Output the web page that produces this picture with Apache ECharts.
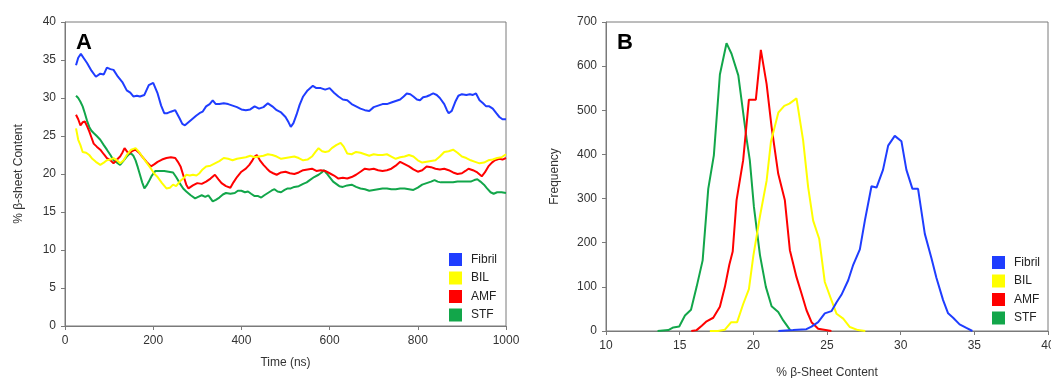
<!DOCTYPE html>
<html>
<head>
<meta charset="utf-8">
<script src="https://cdn.jsdelivr.net/npm/echarts@6/dist/echarts.min.js"></script>
<style>
html,body{margin:0;padding:0;background:#fff;}
#c{width:1051px;height:378px;}
</style>
</head>
<body>
<div id="c"></div>
<script>
// ---------- Panel A: time series [time ns, % beta-sheet] ----------
const seriesNames = ['Fibril', 'BIL', 'AMF', 'STF'];
const seriesColors = ['#1f3dff', '#ffff00', '#ff0000', '#12a64a'];

const fibrilTime = [
 [25,34.3],[30,35.3],[36,35.8],[43,35.2],[50,34.6],[60,33.6],[70,32.8],[80,33.2],[88,33.1],[95,34.0],[103,33.8],[110,33.7],[120,32.8],[130,32.1],[140,31.0],[148,30.7],[155,30.2],[163,30.3],[170,30.2],[180,30.4],[190,31.7],[200,32.0],[210,30.6],[218,29.0],[225,28.0],[232,28.0],[240,28.2],[250,28.4],[260,27.3],[266,26.6],[272,26.4],[280,26.8],[290,27.3],[298,27.7],[305,28.0],[312,28.2],[320,28.9],[328,29.2],[335,29.7],[342,29.2],[350,29.2],[360,29.3],[370,29.2],[380,29.0],[390,28.8],[400,28.5],[410,28.4],[420,28.5],[430,28.9],[440,28.6],[450,28.8],[460,29.3],[470,28.9],[480,28.4],[490,28.1],[500,27.5],[507,26.8],[512,26.2],[518,26.7],[525,27.8],[532,29.1],[540,30.2],[550,31.0],[562,31.6],[570,31.3],[580,31.3],[590,31.1],[600,31.3],[610,30.7],[620,30.2],[630,29.8],[640,29.7],[650,29.2],[660,28.9],[670,28.6],[680,28.4],[690,28.3],[700,28.8],[710,29.0],[720,29.2],[730,29.2],[740,29.4],[750,29.6],[760,29.8],[768,30.2],[775,30.6],[783,30.5],[790,30.2],[798,29.8],[805,29.7],[812,30.1],[820,30.2],[828,30.4],[835,30.6],[843,30.4],[850,30.0],[860,29.2],[866,28.4],[870,28.0],[877,28.3],[885,29.5],[892,30.3],[900,30.5],[910,30.4],[918,30.5],[925,30.4],[932,30.6],[940,29.7],[948,29.3],[955,28.9],[962,28.9],[970,28.6],[978,28.0],[985,27.5],[992,27.2],[1000,27.2]
];
const bilTime = [
 [25,26.0],[30,24.5],[35,23.8],[40,22.9],[48,22.8],[55,22.5],[62,22.0],[70,21.6],[80,21.2],[88,21.5],[95,21.8],[103,21.9],[110,22.1],[118,21.8],[125,21.4],[133,21.8],[140,22.5],[150,23.2],[160,23.4],[168,22.9],[175,22.3],[185,21.5],[195,20.7],[203,20.0],[210,19.6],[220,18.8],[230,18.1],[238,18.2],[245,18.6],[252,18.4],[260,19.0],[268,19.4],[275,19.9],[283,19.8],[290,19.9],[298,19.8],[305,20.1],[312,20.6],[320,21.0],[330,21.1],[340,21.4],[350,21.7],[360,22.1],[370,22.0],[380,21.8],[390,22.0],[400,22.1],[410,22.2],[420,22.4],[430,22.2],[440,22.3],[450,22.4],[460,22.6],[470,22.5],[480,22.3],[490,22.0],[500,22.1],[510,22.2],[520,22.3],[530,22.1],[540,21.8],[550,21.9],[560,22.3],[568,22.9],[575,23.4],[583,23.0],[590,22.9],[598,23.0],[605,23.4],[615,23.8],[625,24.1],[632,23.6],[640,22.7],[650,22.6],[660,22.9],[670,22.8],[680,22.6],[690,22.4],[700,22.6],[710,22.5],[720,22.5],[730,22.6],[740,22.3],[750,22.0],[760,22.2],[770,22.3],[780,22.5],[790,22.3],[800,21.8],[810,21.5],[820,21.6],[830,21.7],[840,21.8],[850,22.3],[860,22.9],[870,23.0],[880,23.2],[890,22.8],[900,22.3],[910,22.1],[920,21.8],[930,21.6],[940,21.4],[950,21.5],[960,21.8],[970,21.9],[980,22.1],[990,22.2],[1000,22.6]
];
const amfTime = [
 [25,27.8],[30,27.2],[35,26.4],[40,26.8],[45,26.9],[50,26.3],[55,25.6],[60,24.8],[65,24.0],[72,23.6],[80,23.2],[88,22.6],[95,22.1],[103,21.8],[110,21.4],[118,21.9],[125,22.3],[130,22.8],[135,23.4],[140,23.0],[145,22.7],[152,23.0],[160,23.2],[168,22.8],[175,22.3],[185,21.6],[195,21.0],[203,21.3],[210,21.6],[220,21.9],[230,22.1],[240,22.2],[250,22.1],[256,21.6],[262,21.0],[270,19.5],[275,18.6],[280,18.1],[290,18.5],[300,18.8],[310,18.7],[320,19.0],[330,19.4],[340,19.9],[348,19.3],[355,18.8],[365,18.4],[375,18.2],[382,18.9],[390,19.6],[400,20.3],[410,20.7],[418,21.2],[425,21.8],[430,22.3],[435,22.5],[442,21.8],[450,21.2],[458,20.7],[465,20.3],[472,20.1],[480,19.9],[490,20.2],[500,20.3],[510,20.1],[520,20.0],[530,20.2],[540,20.5],[550,20.6],[560,20.7],[570,20.4],[580,20.5],[590,20.4],[600,20.1],[610,19.8],[620,19.4],[630,19.5],[640,19.4],[650,19.6],[660,19.9],[670,20.3],[680,20.7],[690,20.6],[700,20.7],[710,20.5],[720,20.4],[730,20.5],[740,20.7],[750,21.1],[760,21.6],[770,21.3],[780,21.0],[790,20.6],[800,20.3],[810,20.5],[820,21.0],[830,20.9],[840,20.7],[850,20.6],[860,20.7],[870,20.5],[880,20.2],[890,20.0],[900,20.1],[908,20.4],[915,20.7],[925,20.5],[935,20.2],[945,19.7],[952,20.2],[960,21.0],[968,21.5],[975,21.8],[985,22.0],[992,21.9],[1000,22.1]
];
const stfTime = [
 [25,30.3],[30,30.0],[35,29.5],[40,28.9],[45,28.0],[50,27.0],[55,26.2],[60,25.7],[65,25.4],[72,25.0],[80,24.5],[88,23.8],[95,23.2],[103,22.5],[110,21.8],[118,21.5],[125,21.2],[132,21.7],[140,22.3],[145,22.6],[150,22.7],[155,22.4],[160,21.8],[165,20.9],[170,19.9],[175,18.9],[180,18.1],[185,18.5],[190,19.0],[197,19.8],[205,20.4],[215,20.4],[225,20.4],[235,20.3],[245,20.2],[252,19.6],[260,18.8],[268,18.1],[275,17.7],[285,17.2],[295,16.8],[302,17.0],[310,17.2],[318,17.0],[325,17.2],[330,16.8],[335,16.4],[342,16.6],[350,16.9],[358,17.3],[365,17.5],[375,17.4],[385,17.5],[392,17.8],[400,17.8],[408,17.6],[415,17.7],[422,17.4],[430,17.1],[438,17.1],[445,16.9],[452,17.2],[460,17.5],[468,17.8],[475,18.0],[482,17.7],[490,17.6],[498,17.9],[505,18.1],[512,18.1],[520,18.3],[530,18.4],[540,18.7],[548,18.9],[555,19.2],[565,19.6],[575,19.9],[582,20.2],[587,20.5],[593,20.1],[600,19.6],[608,19.0],[615,18.7],[622,18.4],[630,18.3],[640,18.5],[650,18.6],[660,18.3],[670,18.1],[680,18.0],[690,17.8],[700,17.9],[710,18.0],[720,18.1],[730,18.1],[740,18.0],[750,18.0],[760,18.1],[770,18.1],[780,18.0],[790,17.9],[800,18.2],[810,18.6],[820,18.8],[830,19.0],[838,19.2],[845,19.0],[852,18.9],[860,18.9],[870,18.9],[880,18.9],[890,19.0],[900,19.0],[910,19.0],[920,19.0],[928,19.2],[935,19.3],[942,19.0],[950,18.6],[957,18.1],[965,17.6],[972,17.4],[980,17.6],[990,17.6],[1000,17.5]
];

// ---------- Panel B: histograms [% beta-sheet, frequency] ----------
const fibrilHist = [
 [21.7,0],[22.7,2],[23.6,4],[23.95,10],[24.4,20],[24.85,40],[25.3,45],[25.65,65],[25.98,82],[26.44,115],[26.78,150],[27.23,185],[27.57,250],[28.02,328],[28.36,325],[28.8,365],[29.15,420],[29.6,442],[30.05,430],[30.39,365],[30.8,322],[31.18,322],[31.64,220],[32.09,165],[32.43,120],[32.88,70],[33.22,40],[33.56,30],[34.0,15],[34.46,7],[34.87,0]
];
const bilHist = [
 [17.05,0],[17.6,0],[18.07,3],[18.5,20],[18.9,20],[19.3,60],[19.7,95],[20.0,170],[20.45,260],[20.9,340],[21.2,430],[21.7,495],[22.1,510],[22.45,515],[22.93,527],[23.38,432],[23.72,326],[24.06,250],[24.47,209],[24.85,111],[25.3,70],[25.65,39],[26.1,28],[26.55,9],[27.1,2],[27.6,0]
];
const amfHist = [
 [15.79,0],[16.15,2],[16.5,12],[16.83,22],[17.28,30],[17.73,55],[18.07,100],[18.37,150],[18.6,180],[18.86,296],[19.31,387],[19.7,524],[20.17,524],[20.51,637],[20.9,560],[21.24,462],[21.69,356],[22.14,296],[22.48,183],[22.93,122],[23.27,85],[23.61,47],[23.95,20],[24.4,5],[25.3,0]
];
const stfHist = [
 [13.5,0],[14.23,2],[14.57,8],[14.97,10],[15.36,35],[15.77,48],[16.15,100],[16.56,160],[16.94,322],[17.32,398],[17.73,581],[18.18,652],[18.52,628],[18.98,579],[19.54,436],[19.76,387],[20.04,281],[20.45,172],[20.85,100],[21.24,56],[21.69,43],[22.03,24],[22.5,2]
];

const timeData = [fibrilTime, bilTime, amfTime, stfTime];
const histData = [fibrilHist, bilHist, amfHist, stfHist];

const FONT = 'Liberation Sans, Arial, sans-serif';
const axisGray = '#7a7a7a';
const textCol = '#333';

function baseAxis(extra) {
  return Object.assign({
    axisLine: {show: true, onZero: false, lineStyle: {color: axisGray, width: 1}},
    axisTick: {show: true, length: 4, lineStyle: {color: axisGray}},
    splitLine: {show: false},
    axisLabel: {color: textCol, fontSize: 12, fontFamily: FONT, margin: 9, formatter: v => String(v)},
    nameTextStyle: {color: textCol, fontSize: 12, fontFamily: FONT},
    nameLocation: 'middle'
  }, extra);
}

const series = [];
seriesNames.forEach((n, i) => {
  series.push({name: n, type: 'line', xAxisIndex: 0, yAxisIndex: 0, data: timeData[i],
    showSymbol: false, symbol: 'none', lineStyle: {width: 2, color: seriesColors[i]}, itemStyle: {color: seriesColors[i]},
    z: 10 - i, animation: false});
});
seriesNames.forEach((n, i) => {
  series.push({name: n, type: 'line', xAxisIndex: 1, yAxisIndex: 1, data: histData[i],
    showSymbol: false, symbol: 'none', lineStyle: {width: 2, color: seriesColors[i]}, itemStyle: {color: seriesColors[i]},
    z: 10 - i, animation: false});
});

const legendBase = {
  orient: 'vertical', icon: 'rect', itemWidth: 13, itemHeight: 13, itemGap: 5.5,
  textStyle: {color: '#222', fontSize: 12, fontFamily: FONT, padding: [0, 0, 0, 4]},
  data: seriesNames, selectedMode: false
};

const chart = echarts.init(document.getElementById('c'), null, {renderer: 'canvas'});
chart.setOption({
  animation: false,
  backgroundColor: '#fff',
  title: [
    {text: 'A', left: 71, top: 27, textStyle: {fontSize: 22, fontWeight: 'bold', color: '#000', fontFamily: FONT}},
    {text: 'B', left: 612, top: 27, textStyle: {fontSize: 22, fontWeight: 'bold', color: '#000', fontFamily: FONT}}
  ],
  grid: [
    {left: 65, top: 22, width: 441, height: 304, show: true, borderColor: axisGray, borderWidth: 1, backgroundColor: '#fff', outerBoundsMode: 'none', containLabel: false},
    {left: 606, top: 22, width: 442, height: 309, show: true, borderColor: axisGray, borderWidth: 1, backgroundColor: '#fff', outerBoundsMode: 'none', containLabel: false}
  ],
  xAxis: [
    baseAxis({type: 'value', gridIndex: 0, min: 0, max: 1000, interval: 200, name: 'Time (ns)', nameGap: 31}),
    baseAxis({type: 'value', gridIndex: 1, min: 10, max: 40, interval: 5, name: '% β-Sheet Content', nameGap: 36})
  ],
  yAxis: [
    baseAxis({type: 'value', gridIndex: 0, min: 0, max: 40, interval: 5, name: '% β-sheet Content', nameGap: 40}),
    baseAxis({type: 'value', gridIndex: 1, min: 0, max: 700, interval: 100, name: 'Frequency', nameGap: 45})
  ],
  legend: [
    Object.assign({left: 444, top: 248}, legendBase),
    Object.assign({left: 987, top: 251}, legendBase)
  ],
  series: series
});
</script>
</body>
</html>
